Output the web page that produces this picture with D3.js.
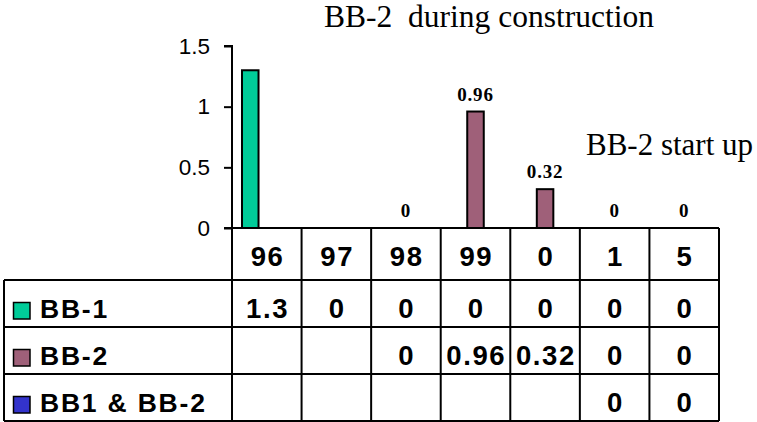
<!DOCTYPE html>
<html>
<head>
<meta charset="utf-8">
<script src="https://cdn.jsdelivr.net/npm/d3@7"></script>
<style>
  html, body { margin: 0; padding: 0; background: #fff; }
  svg { display: block; }
  .sans { font-family: "Liberation Sans", Arial, Helvetica, sans-serif; }
  .serif { font-family: "Liberation Serif", "Times New Roman", Times, serif; }
</style>
</head>
<body>
<svg id="chart" width="757" height="422"></svg>
<script>
// Years along the bottom of the chart (two-digit labels)
const categories = ["96", "97", "98", "99", "0", "1", "5"];

// Series names and values; null = no entry for that year
const seriesNames = ["BB-1", "BB-2", "BB1 & BB-2"];
const bb1Values = [1.3, 0, 0, 0, 0, 0, 0];
const bb2Values = [null, null, 0, 0.96, 0.32, 0, 0];
const bb12Values = [null, null, null, null, null, 0, 0];
const seriesColors = ["#00CC99", "#9F6079", "#3333CC"];

// Value axis ticks
const yTicks = [0, 0.5, 1, 1.5];

// Annotations
const titleText = "BB-2  during construction";
const noteText = "BB-2 start up";

const seriesValues = [bb1Values, bb2Values, bb12Values];
const labelledSeries = 1; // only BB-2 carries value labels above its bars

const svg = d3.select("#chart");

// ---- layout ----
const plotLeft = 232, plotRight = 719;
const plotTop = 46, plotBottom = 228;
const tableLeft = 4;
const headerBottom = 280, tableBottom = 421;

const x = d3.scaleBand().domain(categories).range([plotLeft, plotRight]).padding(0);
const xInner = d3.scaleBand().domain(seriesNames).range([10, x.bandwidth() - 10]).padding(0);
const y = d3.scaleLinear().domain([0, 1.5]).range([plotBottom, plotTop]);
const rowY = d3.scaleBand().domain(seriesNames).range([headerBottom, tableBottom]).padding(0);

// ---- title and note ----
svg.append("text")
  .attr("class", "serif")
  .attr("x", 489).attr("y", 27)
  .attr("text-anchor", "middle")
  .attr("font-size", 31.5)
  .style("white-space", "pre")
  .attr("xml:space", "preserve")
  .text(titleText);

svg.append("text")
  .attr("class", "serif")
  .attr("x", 586).attr("y", 155)
  .attr("font-size", 31)
  .text(noteText);

// ---- bars ----
const barData = [];
seriesValues.forEach((vals, si) => {
  vals.forEach((v, ci) => {
    if (v !== null) barData.push({ series: seriesNames[si], si, cat: categories[ci], value: v });
  });
});

svg.append("g")
  .selectAll("rect")
  .data(barData.filter(d => d.value > 0))
  .join("rect")
  .attr("x", d => x(d.cat) + xInner(d.series))
  .attr("width", xInner.bandwidth())
  .attr("y", d => y(d.value))
  .attr("height", d => y(0) - y(d.value))
  .attr("fill", d => seriesColors[d.si])
  .attr("stroke", "#000")
  .attr("stroke-width", 2);

// value labels above BB-2 bars
svg.append("g")
  .selectAll("text")
  .data(barData.filter(d => d.si === labelledSeries))
  .join("text")
  .attr("class", "serif")
  .attr("x", d => x(d.cat) + xInner(d.series) + xInner.bandwidth() / 2)
  .attr("y", d => y(d.value) - 11)
  .attr("text-anchor", "middle")
  .attr("font-size", 19)
  .attr("font-weight", "bold")
  .attr("letter-spacing", 0.8)
  .text(d => String(d.value));

// ---- value axis ----
const yAxis = d3.axisLeft(y)
  .tickValues(yTicks)
  .tickSize(8)
  .tickPadding(14)
  .tickFormat(d3.format(""));

const yg = svg.append("g")
  .attr("transform", `translate(${plotLeft},0)`)
  .call(yAxis);
yg.select(".domain").attr("stroke", "#000").attr("stroke-width", 2)
  .attr("d", `M-8,${plotTop}H0V${plotBottom}`);
yg.selectAll(".tick line").attr("stroke", "#000").attr("stroke-width", 2);
yg.selectAll(".tick text")
  .attr("class", "sans")
  .attr("font-size", 22.5)
  .attr("fill", "#000");

// ---- data table ----
const table = svg.append("g").attr("stroke", "#000").attr("stroke-width", 2);

// category axis line / table top
table.append("line")
  .attr("x1", plotLeft - 8).attr("x2", plotRight)
  .attr("y1", y(0)).attr("y2", y(0));

// horizontal row lines
const rowEdges = [headerBottom, ...seriesNames.map(s => rowY(s) + rowY.bandwidth())];
table.selectAll(".hline")
  .data(rowEdges)
  .join("line")
  .attr("x1", tableLeft).attr("x2", plotRight)
  .attr("y1", d => d).attr("y2", d => d);

// vertical column lines
const colEdges = [...categories.map(c => x(c)), plotRight];
table.selectAll(".vline")
  .data(colEdges)
  .join("line")
  .attr("x1", d => d).attr("x2", d => d)
  .attr("y1", y(0)).attr("y2", tableBottom);

table.append("line")
  .attr("x1", tableLeft).attr("x2", tableLeft)
  .attr("y1", headerBottom).attr("y2", tableBottom);

const textOffset = 38;
const cellFont = 27.5;
const cellSpacing = 1.6;

// header: category labels
svg.append("g")
  .selectAll("text")
  .data(categories)
  .join("text")
  .attr("class", "sans")
  .attr("x", d => x(d) + x.bandwidth() / 2 + cellSpacing / 2)
  .attr("y", y(0) + textOffset)
  .attr("text-anchor", "middle")
  .attr("font-size", cellFont)
  .attr("font-weight", "bold")
  .attr("letter-spacing", cellSpacing)
  .text(d => d);

// rows: legend key + values
const rows = svg.append("g")
  .selectAll("g")
  .data(seriesNames)
  .join("g")
  .attr("transform", d => `translate(0,${rowY(d)})`);

rows.append("rect")
  .attr("x", 13.5)
  .attr("y", 22.5)
  .attr("width", 16.5)
  .attr("height", 16.5)
  .attr("fill", (d, i) => seriesColors[i])
  .attr("stroke", "#000")
  .attr("stroke-width", 1.5);

rows.append("text")
  .attr("class", "sans")
  .attr("x", 40)
  .attr("y", textOffset)
  .attr("font-size", 26.5)
  .attr("font-weight", "bold")
  .attr("letter-spacing", 1.8)
  .style("white-space", "pre")
  .text(d => d);

rows.each(function(name, si) {
  d3.select(this).selectAll(".val")
    .data(seriesValues[si].map((v, ci) => ({ v, cat: categories[ci] })).filter(d => d.v !== null))
    .join("text")
    .attr("class", "sans")
    .attr("x", d => x(d.cat) + x.bandwidth() / 2 + cellSpacing / 2)
    .attr("y", textOffset)
    .attr("text-anchor", "middle")
    .attr("font-size", cellFont)
    .attr("font-weight", "bold")
    .attr("letter-spacing", cellSpacing)
    .text(d => String(d.v));
});
</script>
</body>
</html>
